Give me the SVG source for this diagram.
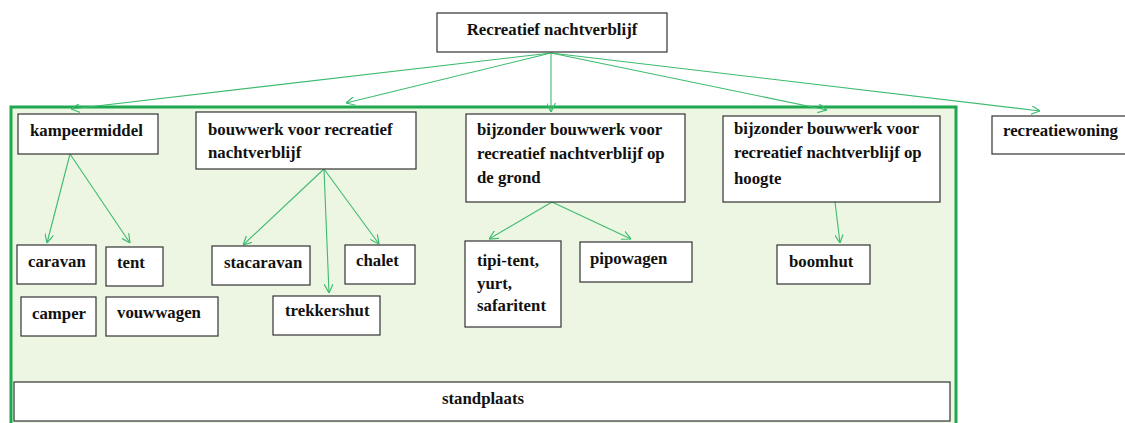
<svg xmlns="http://www.w3.org/2000/svg" width="1125" height="423" viewBox="0 0 1125 423">
<style>
.box{fill:#fff;stroke:#333;stroke-width:1.2}
.t{font-family:"Liberation Serif",serif;font-weight:bold;font-size:16.8px;fill:#111}
.c{fill:none;stroke:#3dbb6e;stroke-width:1.1;marker-end:url(#ah)}
</style>
<defs>
<marker id="ah" viewBox="0 0 10 10" refX="10" refY="5" markerWidth="9" markerHeight="9" markerUnits="userSpaceOnUse" orient="auto">
<path d="M0,0 L10,5 L0,10" fill="none" stroke="#3dbb6e" stroke-width="1.3"/>
</marker>
</defs>
<rect width="1125" height="423" fill="#fff"/>
<g id="container"><rect x="11" y="107" width="945" height="330" fill="#edf6e3" stroke="#1fa84f" stroke-width="3"/></g>
<g id="connectors">
<line class="c" x1="551" y1="53" x2="71" y2="109"/>
<line class="c" x1="551" y1="53" x2="346" y2="103"/>
<line class="c" x1="551" y1="53" x2="551" y2="112"/>
<line class="c" x1="551" y1="53" x2="827" y2="110"/>
<line class="c" x1="551" y1="53" x2="1040" y2="111"/>
<line class="c" x1="70" y1="154" x2="47" y2="243"/>
<line class="c" x1="70" y1="154" x2="130" y2="243"/>
<line class="c" x1="324" y1="169" x2="243" y2="245"/>
<line class="c" x1="324" y1="169" x2="329" y2="293"/>
<line class="c" x1="324" y1="169" x2="379" y2="244"/>
<line class="c" x1="552" y1="202" x2="489" y2="239"/>
<line class="c" x1="552" y1="202" x2="631" y2="239"/>
<line class="c" x1="835" y1="202" x2="840" y2="243"/>
</g>
<g id="n-root"><rect class="box" x="437" y="13" width="230" height="39"/><text class="t" x="552" y="35" text-anchor="middle">Recreatief nachtverblijf</text></g>
<g id="n-kampeermiddel"><rect class="box" x="18" y="114" width="140" height="40"/><text class="t" x="30" y="136">kampeermiddel</text></g>
<g id="n-bouwwerk"><rect class="box" x="196" y="112" width="220" height="57"/><text class="t" x="208" y="135">bouwwerk voor recreatief</text><text class="t" x="208" y="158">nachtverblijf</text></g>
<g id="n-grond"><rect class="box" x="466" y="114" width="219" height="88"/><text class="t" x="477" y="135">bijzonder bouwwerk voor</text><text class="t" x="477" y="159">recreatief nachtverblijf op</text><text class="t" x="477" y="183">de grond</text></g>
<g id="n-hoogte"><rect class="box" x="723" y="116" width="217" height="86"/><text class="t" x="734" y="134">bijzonder bouwwerk voor</text><text class="t" x="734" y="158">recreatief nachtverblijf op</text><text class="t" x="734" y="184">hoogte</text></g>
<g id="n-recreatiewoning"><rect class="box" x="992" y="116" width="140" height="38"/><text class="t" x="1003" y="136">recreatiewoning</text></g>
<g id="n-caravan"><rect class="box" x="17" y="245" width="79" height="39"/><text class="t" x="28" y="267">caravan</text></g>
<g id="n-tent"><rect class="box" x="106" y="247" width="57" height="39"/><text class="t" x="117" y="268">tent</text></g>
<g id="n-camper"><rect class="box" x="21" y="297" width="75" height="39"/><text class="t" x="32" y="319">camper</text></g>
<g id="n-vouwwagen"><rect class="box" x="106" y="297" width="112" height="39"/><text class="t" x="117" y="318">vouwwagen</text></g>
<g id="n-stacaravan"><rect class="box" x="212" y="246" width="98" height="39"/><text class="t" x="224" y="268">stacaravan</text></g>
<g id="n-chalet"><rect class="box" x="345" y="245" width="70" height="39"/><text class="t" x="356" y="266">chalet</text></g>
<g id="n-trekkershut"><rect class="box" x="273" y="296" width="107" height="39"/><text class="t" x="285" y="316">trekkershut</text></g>
<g id="n-tipi"><rect class="box" x="465" y="241" width="96" height="86"/><text class="t" x="477" y="266">tipi-tent,</text><text class="t" x="477" y="289">yurt,</text><text class="t" x="477" y="311">safaritent</text></g>
<g id="n-pipowagen"><rect class="box" x="580" y="242" width="112" height="40"/><text class="t" x="590" y="264">pipowagen</text></g>
<g id="n-boomhut"><rect class="box" x="777" y="245" width="93" height="39"/><text class="t" x="789" y="267">boomhut</text></g>
<g id="n-standplaats"><rect class="box" x="14" y="382" width="936" height="39"/><text class="t" x="483" y="404" text-anchor="middle">standplaats</text></g>
</svg>
